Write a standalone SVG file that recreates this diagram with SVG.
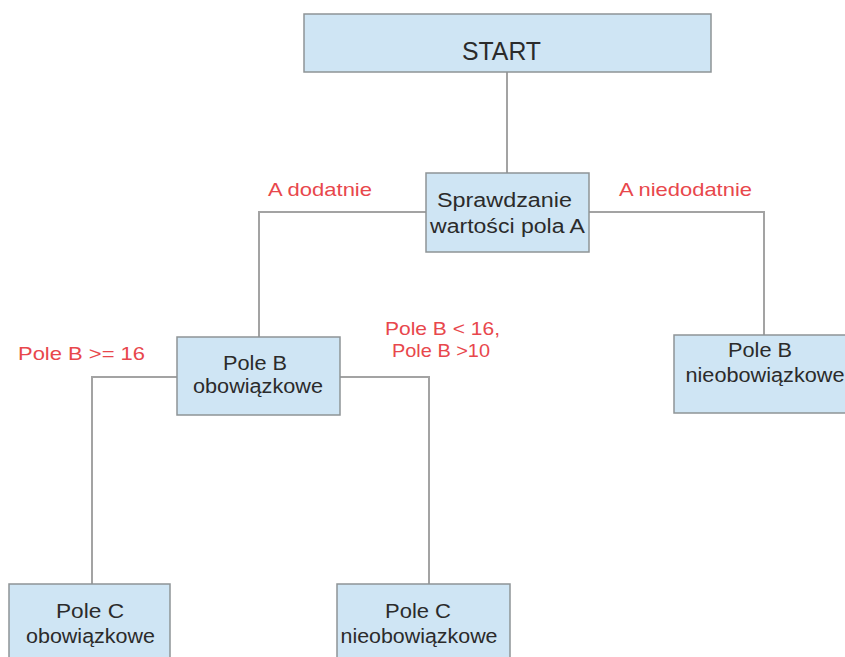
<svg xmlns="http://www.w3.org/2000/svg" width="845" height="657" viewBox="0 0 845 657">
<style>
.box{fill:#cfe5f4;stroke:#8e9496;stroke-width:1.5}
.lnk{fill:none;stroke:#a3a3a3;stroke-width:2}
.t{font-family:"Liberation Sans",Arial,sans-serif;font-size:20px;fill:#2b2b2b;text-anchor:middle}
.r{font-family:"Liberation Sans",Arial,sans-serif;font-size:18.5px;fill:#e8474c;text-anchor:middle}
</style>
<rect width="845" height="657" fill="#ffffff"/>
<g id="connectors">
<path class="lnk" d="M507,72 V173"/>
<path class="lnk" d="M426,212 H259 V337"/>
<path class="lnk" d="M589,212 H764 V335"/>
<path class="lnk" d="M177,377 H92 V584"/>
<path class="lnk" d="M340,377 H429 V584"/>
</g>
<g id="labels">
<text class="r" x="320" y="196" textLength="104" lengthAdjust="spacingAndGlyphs">A dodatnie</text>
<text class="r" x="685.5" y="196" textLength="133" lengthAdjust="spacingAndGlyphs">A niedodatnie</text>
<text class="r" x="81.5" y="360" textLength="127" lengthAdjust="spacingAndGlyphs">Pole B &gt;= 16</text>
<text class="r" x="442.5" y="335" textLength="115" lengthAdjust="spacingAndGlyphs">Pole B &lt; 16,</text>
<text class="r" x="441" y="357" textLength="98" lengthAdjust="spacingAndGlyphs">Pole B &gt;10</text>
</g>
<g id="start">
<rect class="box" x="304" y="14" width="407" height="58"/>
<text class="t" x="501.5" y="60" style="font-size:25px" textLength="79" lengthAdjust="spacingAndGlyphs">START</text>
</g>
<g id="check-a">
<rect class="box" x="426" y="173" width="163" height="79"/>
<text class="t" x="504.5" y="207" textLength="135" lengthAdjust="spacingAndGlyphs">Sprawdzanie</text>
<text class="t" x="507.5" y="233" textLength="155" lengthAdjust="spacingAndGlyphs">wartości pola A</text>
</g>
<g id="b-required">
<rect class="box" x="177" y="337" width="163" height="78"/>
<text class="t" x="255" y="370" textLength="64" lengthAdjust="spacingAndGlyphs">Pole B</text>
<text class="t" x="258" y="393" textLength="130" lengthAdjust="spacingAndGlyphs">obowiązkowe</text>
</g>
<g id="b-optional">
<rect class="box" x="674" y="335" width="182" height="78"/>
<text class="t" x="760" y="357" textLength="64" lengthAdjust="spacingAndGlyphs">Pole B</text>
<text class="t" x="765" y="382" textLength="159" lengthAdjust="spacingAndGlyphs">nieobowiązkowe</text>
</g>
<g id="c-required">
<rect class="box" x="9" y="584" width="161" height="90"/>
<text class="t" x="90" y="618" textLength="68" lengthAdjust="spacingAndGlyphs">Pole C</text>
<text class="t" x="90.5" y="643" textLength="129" lengthAdjust="spacingAndGlyphs">obowiązkowe</text>
</g>
<g id="c-optional">
<rect class="box" x="337" y="584" width="173" height="90"/>
<text class="t" x="418" y="618" textLength="66" lengthAdjust="spacingAndGlyphs">Pole C</text>
<text class="t" x="419" y="643" textLength="157" lengthAdjust="spacingAndGlyphs">nieobowiązkowe</text>
</g>
</svg>
